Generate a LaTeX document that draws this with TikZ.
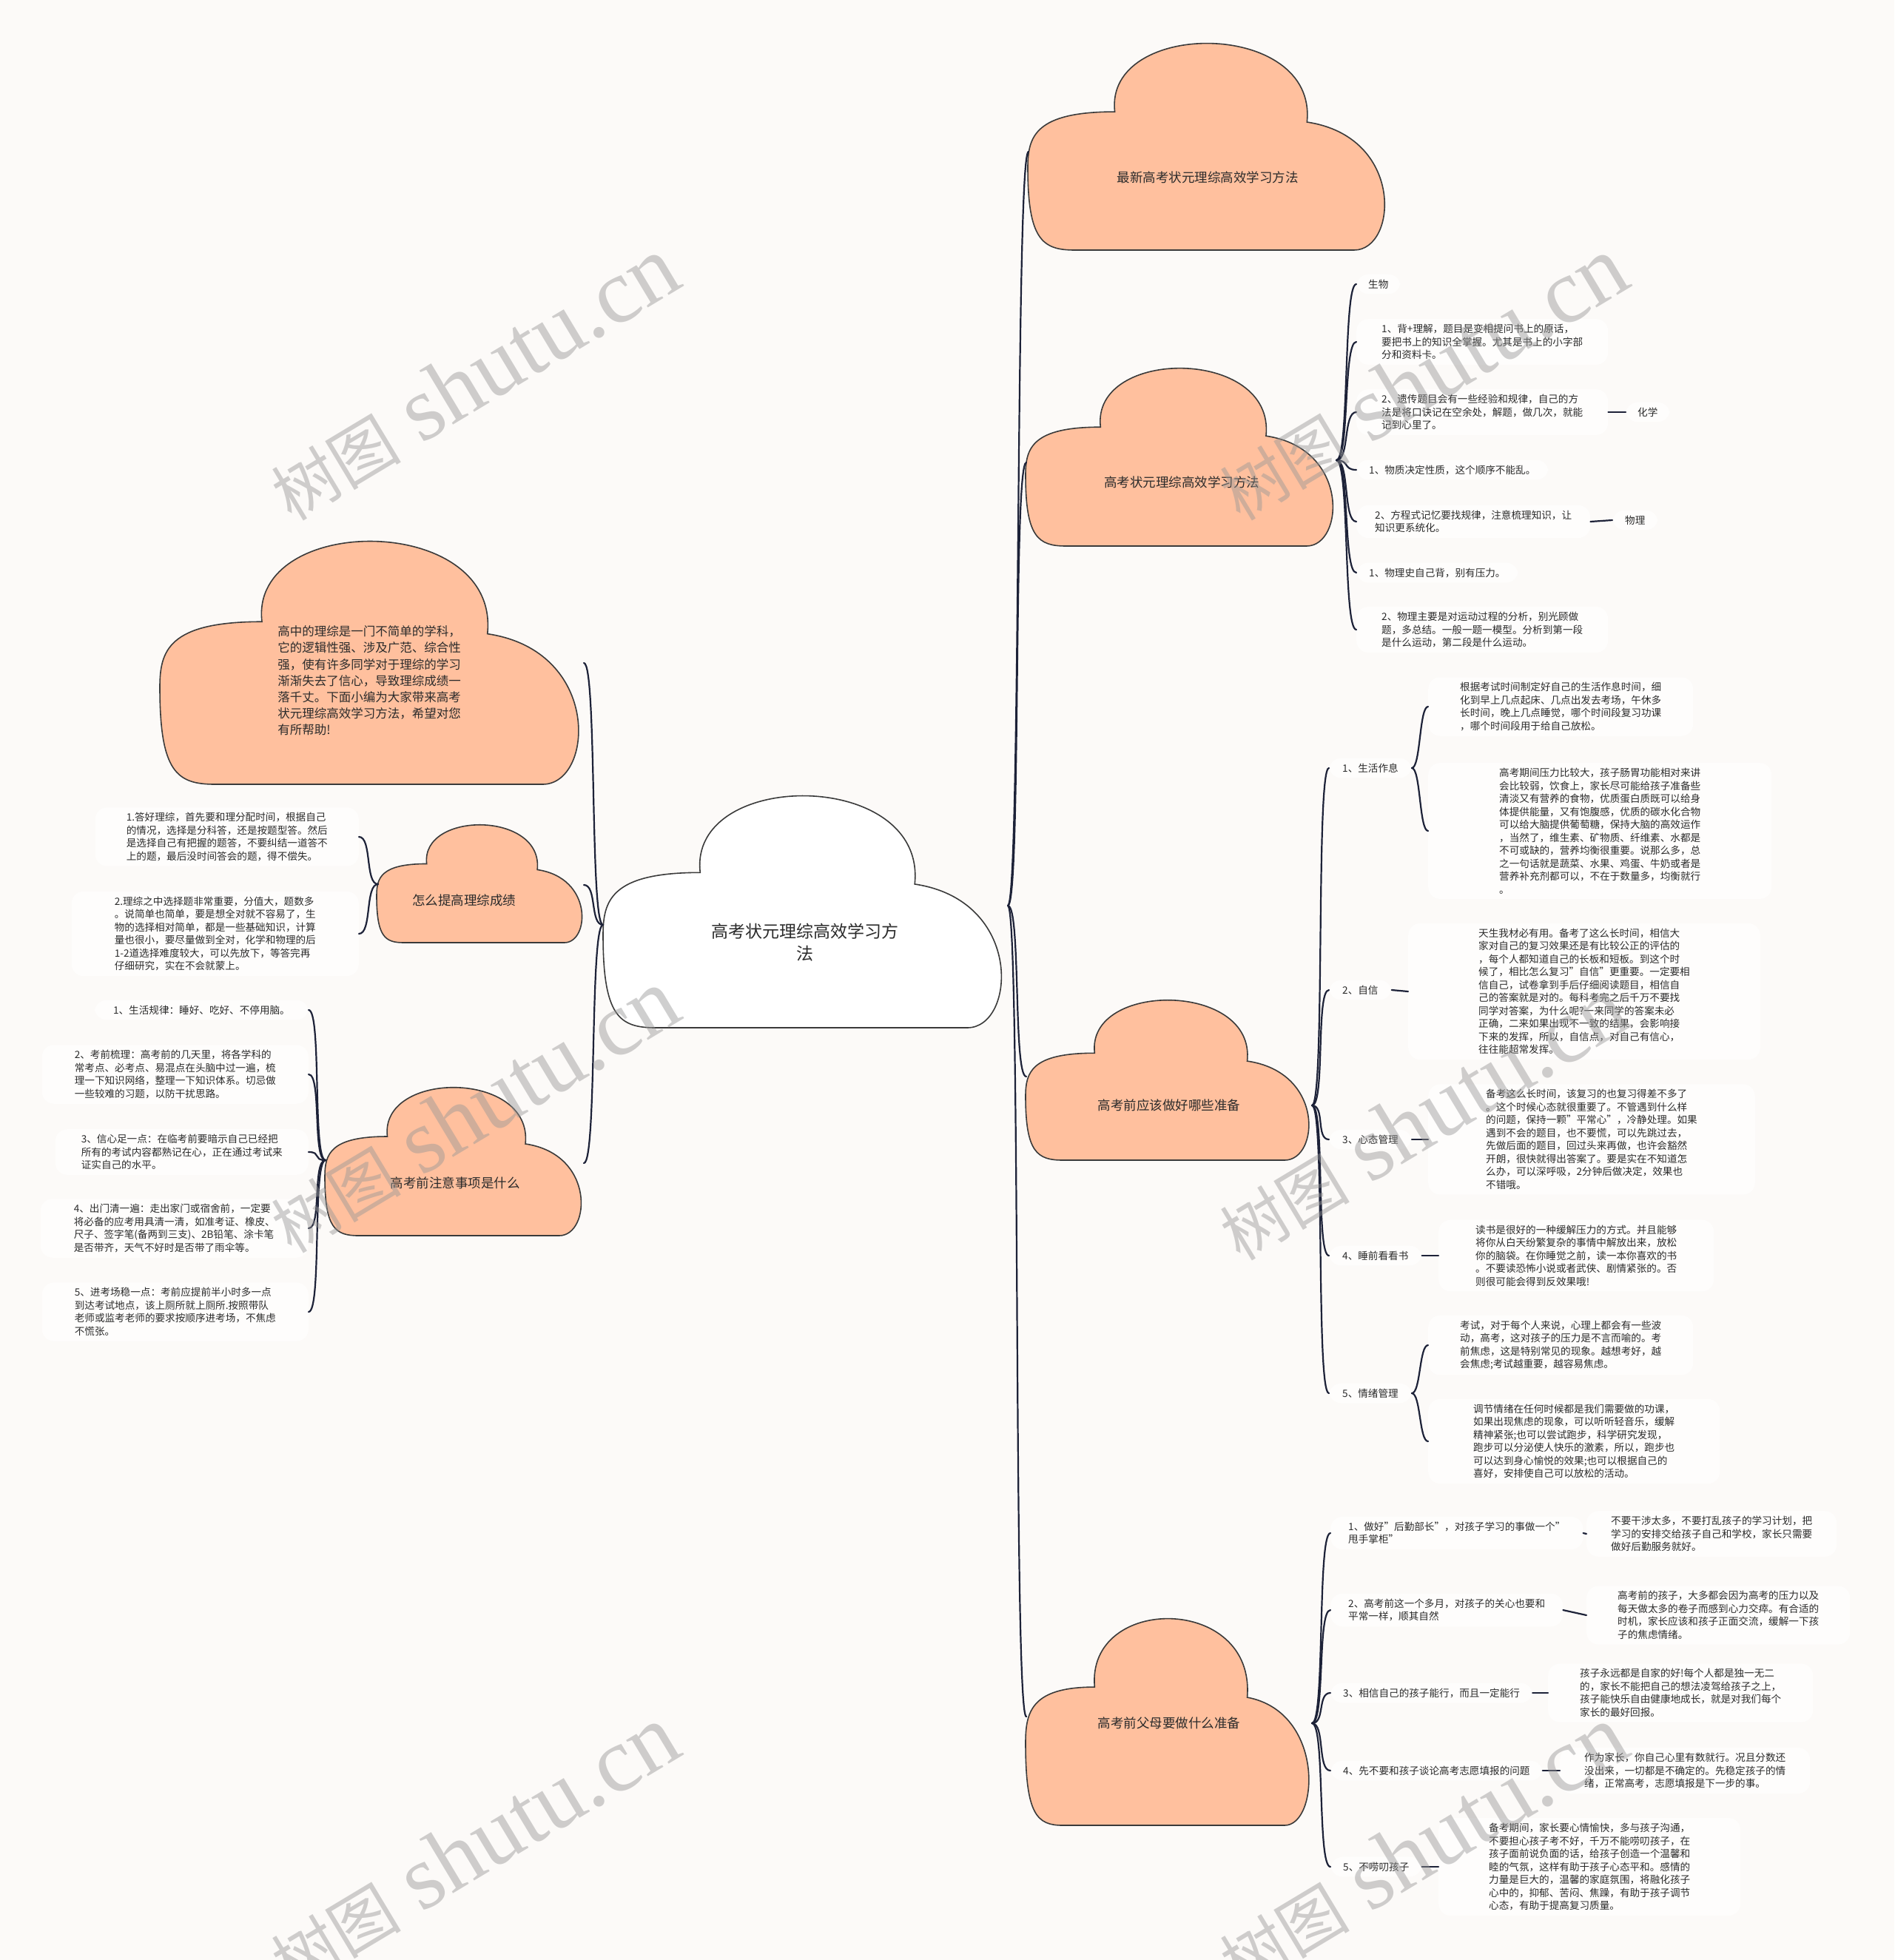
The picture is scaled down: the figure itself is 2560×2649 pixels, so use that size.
\documentclass[tikz,border=0pt]{standalone}
\usepackage{fontspec}
\setmainfont{Noto Sans CJK SC}
\newfontfamily\wmserif{Liberation Serif}
\newfontfamily\wmcjk{Noto Sans CJK SC}
\definecolor{bgc}{RGB}{252,250,248}
\definecolor{leaffill}{RGB}{254,253,252}
\definecolor{cloudfill}{RGB}{255,192,158}
\definecolor{cloudc}{RGB}{58,58,58}
\definecolor{linkc}{RGB}{29,34,56}
\definecolor{txt}{RGB}{43,43,43}
\definecolor{wmc}{RGB}{150,150,150}
\tikzset{
  leaf/.style={font=\fontsize{13.6}{17.5}\selectfont, align=left, text=txt, fill=leaffill, rounded corners=16pt, inner ysep=7pt, inner xsep=#1},
  leaf/.default=16pt,
  cloudtitle/.style={font=\fontsize{17.5}{22}\selectfont, text=txt, align=center},
  link/.style={draw=linkc, line width=2.2pt, line cap=round},
  cloudline/.style={draw=cloudc, line width=1.6pt},
  wmark/.style={text=wmc, opacity=0.45, rotate=31, inner sep=0pt},
}
\newcommand{\drawcloud}[5]{%
  \pgfmathsetmacro{\cL}{#1}\pgfmathsetmacro{\cT}{#2}%
  \pgfmathsetmacro{\cR}{#3}\pgfmathsetmacro{\cB}{#4}%
  \pgfmathsetmacro{\cw}{\cR-\cL}\pgfmathsetmacro{\ch}{\cB-\cT}%
  \draw[cloudline, fill=#5]
    ({\cL+0.13*\cw},\cB) -- ({\cR-0.1*\cw},\cB)
    .. controls ({\cR+0.02*\cw},\cB) and ({\cR+0.04*\cw},{\cT+0.45*\ch}) .. ({\cL+0.77*\cw},{\cT+0.38*\ch})
    .. controls ({\cL+0.8*\cw},{\cT-0.12*\ch}) and ({\cL+0.21*\cw},{\cT-0.12*\ch}) .. ({\cL+0.24*\cw},{\cT+0.33*\ch})
    .. controls ({\cL+0.02*\cw},{\cT+0.33*\ch}) and (\cL,{\cT+0.45*\ch}) .. (\cL,{\cT+0.6*\ch})
    .. controls (\cL,{\cT+0.95*\ch}) and ({\cL+0.04*\cw},\cB) .. cycle;
}
\newcommand{\rlink}[2]{\draw[link] (#1) .. controls +(18,0) and +(-18,0) .. (#2.west);}
\newcommand{\llink}[2]{\draw[link] (#1) .. controls +(-18,0) and +(18,0) .. (#2.east);}
\begin{document}
\begin{tikzpicture}[x=1pt,y=-1pt]
\useasboundingbox[fill=bgc] (0,0) rectangle (2560,2649);

% ---------- clouds ----------
\drawcloud{815}{1076}{1362}{1389}{white}
\drawcloud{1389}{59}{1879}{338}{cloudfill}
\drawcloud{1386}{498}{1808}{738}{cloudfill}
\drawcloud{1386}{1352}{1775}{1568}{cloudfill}
\drawcloud{1386}{2188}{1775}{2467}{cloudfill}
\drawcloud{216}{732}{791}{1060}{cloudfill}
\drawcloud{509}{1115}{791}{1274}{cloudfill}
\drawcloud{439}{1470}{791}{1670}{cloudfill}

\node[font=\fontsize{23}{30}\selectfont, text=txt, align=center] (cen) at (1088,1274) {高考状元理综高效学习方\\法};
\node[cloudtitle] (t1) at (1632,240) {最新高考状元理综高效学习方法};
\node[cloudtitle] (t2) at (1597,652) {高考状元理综高效学习方法};
\node[cloudtitle] (t3) at (1580,1494) {高考前应该做好哪些准备};
\node[cloudtitle] (t4) at (1580,2329) {高考前父母要做什么准备};
\node[font=\fontsize{16.5}{22.2}\selectfont, text=txt, align=left] (t5) at (499,920) {高中的理综是一门不简单的学科，\\它的逻辑性强、涉及广范、综合性\\强，使有许多同学对于理综的学习\\渐渐失去了信心，导致理综成绩一\\落千丈。下面小编为大家带来高考\\状元理综高效学习方法，希望对您\\有所帮助!};
\node[cloudtitle] (t6) at (627,1217) {怎么提高理综成绩};
\node[cloudtitle] (t7) at (615,1599) {高考前注意事项是什么};

% cloud edge points
\coordinate (cen-e) at (1362,1224);
\coordinate (cen-w) at (815,1250);
\coordinate (cl1-w) at (1390,205);
\coordinate (cl2-w) at (1387,625);
\coordinate (cl2-e) at (1806,622);
\coordinate (cl3-w) at (1387,1455);
\coordinate (cl3-e) at (1773,1494);
\coordinate (cl4-w) at (1387,2320);
\coordinate (cl4-e) at (1773,2329);
\coordinate (cl5-e) at (789,896);
\coordinate (cl6-e) at (789,1196);
\coordinate (cl6-w) at (511,1195);
\coordinate (cl7-e) at (789,1572);
\coordinate (cl7-w) at (440,1568);

% ---------- main connectors ----------
\draw[link] (cen-e) .. controls +(18,0) and +(-18,0) .. (cl1-w);
\draw[link] (cen-e) .. controls +(18,0) and +(-18,0) .. (cl2-w);
\draw[link] (cen-e) .. controls +(18,0) and +(-18,0) .. (cl3-w);
\draw[link] (cen-e) .. controls +(18,0) and +(-18,0) .. (cl4-w);
\draw[link] (cen-w) .. controls +(-18,0) and +(18,0) .. (cl5-e);
\draw[link] (cen-w) .. controls +(-18,0) and +(18,0) .. (cl6-e);
\draw[link] (cen-w) .. controls +(-18,0) and +(18,0) .. (cl7-e);

% ---------- cloud 2 children ----------
\node[leaf=16pt, anchor=west] (bio) at (1833,384) {生物};
\node[leaf=34pt, anchor=west] (r1) at (1833,462) {1、背+理解，题目是变相提问书上的原话，\\要把书上的知识全掌握。尤其是书上的小字部\\分和资料卡。};
\node[leaf=34pt, anchor=west] (r2) at (1833,557) {2、遗传题目会有一些经验和规律，自己的方\\法是将口诀记在空余处，解题，做几次，就能\\记到心里了。};
\node[leaf=16pt, anchor=west] (chem) at (2197,557) {化学};
\node[leaf=17pt, anchor=west] (r3) at (1833,635) {1、物质决定性质，这个顺序不能乱。};
\node[leaf=25pt, anchor=west] (r4) at (1833,705) {2、方程式记忆要找规律，注意梳理知识，让\\知识更系统化。};
\node[leaf=17pt, anchor=west] (phys) at (2179,703) {物理};
\node[leaf=17pt, anchor=west] (r5) at (1833,774) {1、物理史自己背，别有压力。};
\node[leaf=34pt, anchor=west] (r6) at (1833,851) {2、物理主要是对运动过程的分析，别光顾做\\题，多总结。一般一题一模型。分析到第一段\\是什么运动，第二段是什么运动。};
\foreach \n in {bio,r1,r2,r3,r4,r5,r6} {\rlink{cl2-e}{\n}}
\draw[link] (r2.east) -- (chem.west);
\draw[link] (r4.east) -- (phys.west);

% ---------- cloud 3 children ----------
\node[leaf=18pt, anchor=west] (c1) at (1796,1038) {1、生活作息};
\node[leaf=43pt, anchor=west] (c1a) at (1930,955) {根据考试时间制定好自己的生活作息时间，细\\化到早上几点起床、几点出发去考场，午休多\\长时间，晚上几点睡觉，哪个时间段复习功课\\，哪个时间段用于给自己放松。};
\node[leaf=96pt, anchor=west] (c1b) at (1930,1123) {高考期间压力比较大，孩子肠胃功能相对来讲\\会比较弱，饮食上，家长尽可能给孩子准备些\\清淡又有营养的食物，优质蛋白质既可以给身\\体提供能量，又有饱腹感，优质的碳水化合物\\可以给大脑提供葡萄糖，保持大脑的高效运作\\，当然了，维生素、矿物质、纤维素、水都是\\不可或缺的，营养均衡很重要。说那么多，总\\之一句话就是蔬菜、水果、鸡蛋、牛奶或者是\\营养补充剂都可以，不在于数量多，均衡就行\\。};
\node[leaf=18pt, anchor=west] (c2) at (1796,1338) {2、自信};
\node[leaf=95pt, anchor=west] (c2a) at (1903,1340) {天生我材必有用。备考了这么长时间，相信大\\家对自己的复习效果还是有比较公正的评估的\\，每个人都知道自己的长板和短板。到这个时\\候了，相比怎么复习"自信"更重要。一定要相\\信自己，试卷拿到手后仔细阅读题目，相信自\\己的答案就是对的。每科考完之后千万不要找\\同学对答案，为什么呢?一来同学的答案未必\\正确，二来如果出现不一致的结果，会影响接\\下来的发挥，所以，自信点，对自己有信心，\\往往能超常发挥。};
\node[leaf=18pt, anchor=west] (c3) at (1796,1540) {3、心态管理};
\node[leaf=78pt, anchor=west] (c3a) at (1930,1540) {备考这么长时间，该复习的也复习得差不多了\\。这个时候心态就很重要了。不管遇到什么样\\的问题，保持一颗"平常心"，冷静处理。如果\\遇到不会的题目，也不要慌，可以先跳过去，\\先做后面的题目，回过头来再做，也许会豁然\\开朗，很快就得出答案了。要是实在不知道怎\\么办，可以深呼吸，2分钟后做决定，效果也\\不错哦。};
\node[leaf=18pt, anchor=west] (c4) at (1796,1697) {4、睡前看看书};
\node[leaf=50pt, anchor=west] (c4a) at (1944,1697) {读书是很好的一种缓解压力的方式。并且能够\\将你从白天纷繁复杂的事情中解放出来，放松\\你的脑袋。在你睡觉之前，读一本你喜欢的书\\。不要读恐怖小说或者武侠、剧情紧张的。否\\则很可能会得到反效果哦!};
\node[leaf=18pt, anchor=west] (c5) at (1796,1883) {5、情绪管理};
\node[leaf=43pt, anchor=west] (c5a) at (1930,1818) {考试，对于每个人来说，心理上都会有一些波\\动，高考，这对孩子的压力是不言而喻的。考\\前焦虑，这是特别常见的现象。越想考好，越\\会焦虑;考试越重要，越容易焦虑。};
\node[leaf=61pt, anchor=west] (c5b) at (1930,1948) {调节情绪在任何时候都是我们需要做的功课，\\如果出现焦虑的现象，可以听听轻音乐，缓解\\精神紧张;也可以尝试跑步，科学研究发现，\\跑步可以分泌使人快乐的激素，所以，跑步也\\可以达到身心愉悦的效果;也可以根据自己的\\喜好，安排使自己可以放松的活动。};
\foreach \n in {c1,c2,c3,c4,c5} {\rlink{cl3-e}{\n}}
\draw[link] (c1.east) .. controls +(12,0) and +(-12,0) .. (c1a.west);
\draw[link] (c1.east) .. controls +(12,0) and +(-12,0) .. (c1b.west);
\draw[link] (c5.east) .. controls +(12,0) and +(-12,0) .. (c5a.west);
\draw[link] (c5.east) .. controls +(12,0) and +(-12,0) .. (c5b.west);
\draw[link] (c2.east) -- (c2a.west);
\draw[link] (c3.east) -- (c3a.west);
\draw[link] (c4.east) -- (c4a.west);

% ---------- cloud 4 children ----------
\node[leaf=24pt, anchor=west] (p1) at (1798,2072) {1、做好"后勤部长"，对孩子学习的事做一个"\\甩手掌柜"};
\node[leaf=33pt, anchor=west] (p1a) at (2144,2073) {不要干涉太多，不要打乱孩子的学习计划，把\\学习的安排交给孩子自己和学校，家长只需要\\做好后勤服务就好。};
\node[leaf=24pt, anchor=west] (p2) at (1798,2176) {2、高考前这一个多月，对孩子的关心也要和\\平常一样，顺其自然};
\node[leaf=42pt, anchor=west] (p2a) at (2144,2183) {高考前的孩子，大多都会因为高考的压力以及\\每天做太多的卷子而感到心力交瘁。有合适的\\时机，家长应该和孩子正面交流，缓解一下孩\\子的焦虑情绪。};
\node[leaf=17pt, anchor=west] (p3) at (1798,2288) {3、相信自己的孩子能行，而且一定能行};
\node[leaf=43pt, anchor=west] (p3a) at (2092,2288) {孩子永远都是自家的好!每个人都是独一无二\\的，家长不能把自己的想法凌驾给孩子之上，\\孩子能快乐自由健康地成长，就是对我们每个\\家长的最好回报。};
\node[leaf=17pt, anchor=west] (p4) at (1798,2393) {4、先不要和孩子谈论高考志愿填报的问题};
\node[leaf=33pt, anchor=west] (p4a) at (2108,2393) {作为家长，你自己心里有数就行。况且分数还\\没出来，一切都是不确定的。先稳定孩子的情\\绪，正常高考，志愿填报是下一步的事。};
\node[leaf=17pt, anchor=west] (p5) at (1798,2523) {5、不唠叨孩子};
\node[leaf=68pt, anchor=west] (p5a) at (1944,2523) {备考期间，家长要心情愉快，多与孩子沟通，\\不要担心孩子考不好，千万不能唠叨孩子，在\\孩子面前说负面的话，给孩子创造一个温馨和\\睦的气氛，这样有助于孩子心态平和。感情的\\力量是巨大的，温馨的家庭氛围，将融化孩子\\心中的，抑郁、苦闷、焦躁，有助于孩子调节\\心态，有助于提高复习质量。};
\foreach \n in {p1,p2,p3,p4,p5} {\rlink{cl4-e}{\n}}
\draw[link] (p1.east) -- (p1a.west);
\draw[link] (p2.east) -- (p2a.west);
\draw[link] (p3.east) -- (p3a.west);
\draw[link] (p4.east) -- (p4a.west);
\draw[link] (p5.east) -- (p5a.west);

% ---------- cloud 6 children ----------
\node[leaf=42pt, anchor=east] (e1) at (485,1131) {1.答好理综，首先要和理分配时间，根据自己\\的情况，选择是分科答，还是按题型答。然后\\是选择自己有把握的题答，不要纠结一道答不\\上的题，最后没时间答会的题，得不偿失。};
\node[leaf=58pt, anchor=east] (e2) at (485,1262) {2.理综之中选择题非常重要，分值大，题数多\\。说简单也简单，要是想全对就不容易了，生\\物的选择相对简单，都是一些基础知识，计算\\量也很小，要尽量做到全对，化学和物理的后\\1-2道选择难度较大，可以先放下，等答完再\\仔细研究，实在不会就蒙上。};
\llink{cl6-w}{e1}
\llink{cl6-w}{e2}

% ---------- cloud 7 children ----------
\node[leaf=25pt, anchor=east] (g1) at (417,1365) {1、生活规律：睡好、吃好、不停用脑。};
\node[leaf=44pt, anchor=east] (g2) at (417,1452) {2、考前梳理：高考前的几天里，将各学科的\\常考点、必考点、易混点在头脑中过一遍，梳\\理一下知识网络，整理一下知识体系。切忌做\\一些较难的习题，以防干扰思路。};
\node[leaf=35pt, anchor=east] (g3) at (417,1557) {3、信心足一点：在临考前要暗示自己已经把\\所有的考试内容都熟记在心，正在通过考试来\\证实自己的水平。};
\node[leaf=45pt, anchor=east] (g4) at (417,1660) {4、出门清一遍：走出家门或宿舍前，一定要\\将必备的应考用具清一清，如准考证、橡皮、\\尺子、签字笔(备两到三支)、2B铅笔、涂卡笔\\是否带齐，天气不好时是否带了雨伞等。};
\node[leaf=44pt, anchor=east] (g5) at (417,1773) {5、进考场稳一点：考前应提前半小时多一点\\到达考试地点，该上厕所就上厕所.按照带队\\老师或监考老师的要求按顺序进考场，不焦虑\\不慌张。};
\foreach \n in {g1,g2,g3,g4,g5} {\llink{cl7-w}{\n}}

% ---------- watermarks ----------
\foreach \wx/\wy [count=\i] in {640/512, 1922/512, 640/1502, 1922/1512, 640/2497, 1922/2497} {
  \node[wmark] (wm\i) at (\wx,\wy) {{\wmcjk\fontsize{88}{90}\selectfont 树图}\hspace{28pt}{\wmserif\fontsize{124}{126}\selectfont shutu.cn}};
}
\end{tikzpicture}
\end{document}
